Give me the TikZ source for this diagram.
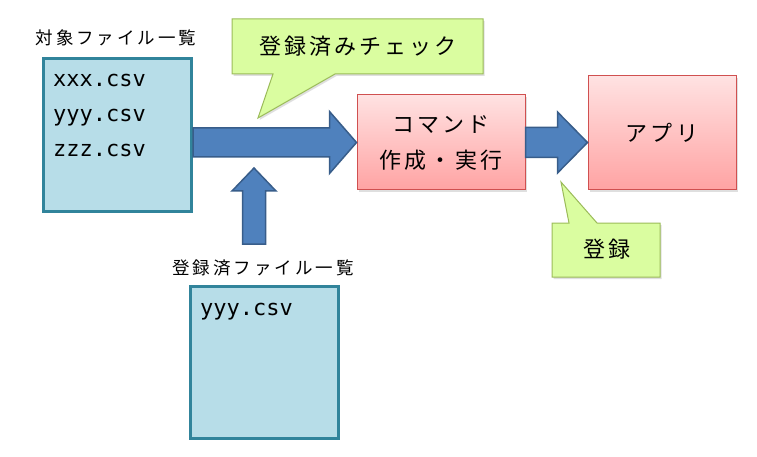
\documentclass[tikz,border=0pt]{standalone}
\usepackage{fontspec}
\setmonofont{DejaVu Sans Mono}
\newfontfamily\jpsmall[LetterSpace=17]{Noto Sans CJK JP}
\newfontfamily\jpbig[LetterSpace=14]{Noto Sans CJK JP}
\usetikzlibrary{shadows,calc}
\definecolor{boxfill}{HTML}{B7DDE8}
\definecolor{boxline}{HTML}{31849B}
\definecolor{arrfill}{HTML}{4F81BD}
\definecolor{arrline}{HTML}{385D8A}
\definecolor{pinktop}{HTML}{FFE2E2}
\definecolor{pinkbot}{HTML}{FFA3A3}
\definecolor{pinkline}{HTML}{D05050}
\definecolor{callfill}{HTML}{DAFDA0}
\definecolor{callline}{HTML}{9BBB59}
\tikzset{
  filebox/.style={draw=boxline, fill=boxfill, line width=3pt, rectangle, anchor=north west, inner sep=0pt},
  pinkbox/.style={draw=pinkline, line width=1pt, top color=pinktop, bottom color=pinkbot, rectangle, inner sep=0pt, align=center,
    drop shadow={shadow xshift=1.5pt, shadow yshift=-2pt, opacity=0.25}, font=\jpbig\fontsize{22}{36}\selectfont},
  callout/.style={draw=callline, fill=callfill, line width=1pt, line join=miter,
    drop shadow={shadow xshift=1.5pt, shadow yshift=-2pt, opacity=0.25}},
  calltext/.style={font=\jpbig\fontsize{22}{26}\selectfont, inner sep=0pt},
  blockarrow/.style={draw=arrline, fill=arrfill, line width=1.5pt, line join=miter},
  filetext/.style={font=\ttfamily\fontsize{22}{24}\selectfont, anchor=base west, inner sep=0pt},
  label/.style={font=\jpsmall\fontsize{17.5}{20}\selectfont, inner sep=0pt}
}
\begin{document}
\begin{tikzpicture}[x=1pt,y=-1pt]
\useasboundingbox (0,0) rectangle (757,457);
% file lists
\node[label] (l1) at (116,38) {対象ファイル一覧};
\node[filebox, minimum width=148pt, minimum height=153pt] (list) at (42,57) {};
\node[filetext] (f1) at (53,87) {xxx.csv};
\node[filetext] (f2) at (53,122) {yyy.csv};
\node[filetext] (f3) at (53,157) {zzz.csv};
\node[label] (l2) at (263,268) {登録済ファイル一覧};
\node[filebox, minimum width=148pt, minimum height=152pt] (done) at (189,285) {};
\node[filetext] (g1) at (200,315) {yyy.csv};
% boxes
\node[pinkbox, minimum width=168pt, minimum height=95pt] (cmd) at (441,142.5) {コマンド\\作成・実行};
\node[pinkbox, minimum width=148pt, minimum height=114pt, font=\jpbig\fontsize{22}{26}\selectfont] (app) at (662,133) {アプリ};
% arrows
\coordinate (a1s) at (list.east |- cmd.west);
\draw[blockarrow] ($(a1s)+(0,-14.5)$) -- ($(cmd.west)+(-27,-14.5)$) -- ($(cmd.west)+(-27,-31)$) -- (cmd.west)
  -- ($(cmd.west)+(-27,31)$) -- ($(cmd.west)+(-27,14.5)$) -- ($(a1s)+(0,14.5)$) -- cycle;
\coordinate (a2e) at (app.west |- cmd.east);
\draw[blockarrow] ($(cmd.east)+(0,-15)$) -- ($(a2e)+(-30,-15)$) -- ($(a2e)+(-30,-30.5)$) -- (a2e)
  -- ($(a2e)+(-30,30.5)$) -- ($(a2e)+(-30,15)$) -- ($(cmd.east)+(0,15)$) -- cycle;
\coordinate (upb) at (254,244);
\coordinate (upt) at (254,168);
\draw[blockarrow] ($(upb)+(-11.5,0)$) -- ($(upt)+(-11.5,23)$) -- ($(upt)+(-22,23)$) -- (upt)
  -- ($(upt)+(22,23)$) -- ($(upt)+(11.5,23)$) -- ($(upb)+(11.5,0)$) -- cycle;
% callouts
\draw[callout] (232,19) -- (483,19) -- (483,74) -- (335,74) -- (258,118) -- (273,74) -- (232,74) -- cycle;
\node[calltext] (chk) at (358,46) {登録済みチェック};
\draw[callout] (552,223) -- (569,223) -- (561,182) -- (597,223) -- (660,223) -- (660,277) -- (552,277) -- cycle;
\node[calltext] (reg) at (607,249) {登録};
\end{tikzpicture}
\end{document}
